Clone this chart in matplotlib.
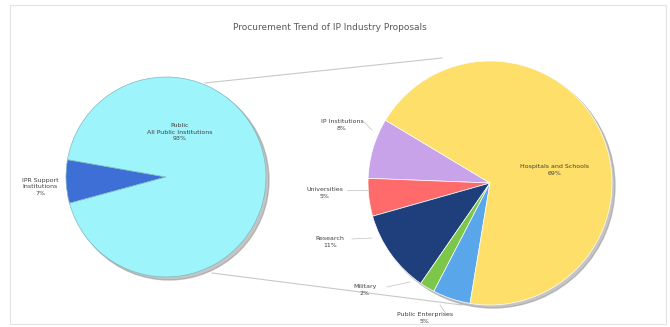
import matplotlib.pyplot as plt
from matplotlib.patches import Circle, Rectangle

# data
title = 'Procurement Trend of IP Industry Proposals'
left_labels = ['IPR Support\nInstitutions', 'Public\nAll Public Institutions']
left_values = [7, 93]
left_colors = ['#3d6fd6', '#9ef4fb']

right_labels = ['IP Institutions', 'Universities', 'Research', 'Military',
                'Public Enterprises', 'Hospitals and Schools']
right_values = [8, 5, 11, 2, 5, 69]
right_colors = ['#c9a3ea', '#ff6a6a', '#1f3e7c', '#7cc74a', '#5aa6ea', '#fddf6a']

W, H = 670, 327


def py(y):
    # pixel row (top-down) -> data y
    return H - y


fig = plt.figure(figsize=(6.7, 3.27), dpi=100)
ax = fig.add_axes([0, 0, 1, 1])
ax.set_xlim(0, W)
ax.set_ylim(0, H)
ax.axis('off')

# chart area frame
ax.add_patch(Rectangle((10, 3), W - 14, H - 8, fill=False, ec='#e3e3e3', lw=0.8))

ax.text(330, py(27), title, ha='center', va='center', fontsize=6.5, color='#595959')

# connector lines between the two pies
ax.plot([205, 442], [py(83), py(58)], color='#c8c8c8', lw=0.8, zorder=0)
ax.plot([212, 462], [py(273), py(305)], color='#c8c8c8', lw=0.8, zorder=0)

# left pie
lc, lr = (166, py(177)), 100
ax.add_patch(Circle((lc[0] + 3, lc[1] - 3), lr, color='#8c8c8c', alpha=0.5, zorder=1))
wl, _ = ax.pie(left_values, colors=left_colors, startangle=170, center=lc,
               radius=lr, wedgeprops=dict(edgecolor='#7fb9c0', linewidth=0.5), frame=True)
for w in wl:
    w.set_zorder(2)

ax.text(40, py(187), left_labels[0] + '\n' + f'{left_values[0]}%', ha='center', va='center',
        fontsize=4.5, color='#404040', linespacing=1.4)
ax.text(180, py(132), left_labels[1] + '\n' + f'{left_values[1]}%', ha='center', va='center',
        fontsize=4.5, color='#404040', linespacing=1.3, zorder=5)

# right pie
rc, rr = (490, py(183)), 122
ax.add_patch(Circle((rc[0] + 3, rc[1] - 3), rr, color='#8c8c8c', alpha=0.5, zorder=1))
wr, _ = ax.pie(right_values, colors=right_colors, startangle=149, center=rc,
               radius=rr, wedgeprops=dict(edgecolor='white', linewidth=0.5), frame=True)
for w in wr:
    w.set_zorder(2)

# outside labels for the small wedges, with leader lines
label_pos = [(342, 125), (325, 193), (330, 242), (365, 290), (425, 318)]
leader_end = [(372, 130), (368, 190), (372, 238), (410, 282), (440, 305)]
for i, (lx, ly) in enumerate(label_pos):
    ax.text(lx, py(ly), f'{right_labels[i]}\n{right_values[i]}%', ha='center', va='center',
            fontsize=4.5, color='#404040', linespacing=1.4, zorder=5)
    ex, ey = leader_end[i]
    ax.plot([lx + 22, ex], [py(ly - 3), py(ey)], color='#bfbfbf', lw=0.5, zorder=4)

ax.text(555, py(170), f'{right_labels[5]}\n{right_values[5]}%', ha='center', va='center',
        fontsize=4.5, color='#404040', linespacing=1.4, zorder=5)

ax.set_xlim(0, W)
ax.set_ylim(0, H)
ax.set_aspect('equal')
ax.axis('off')

fig.savefig('out.png', dpi=100)
